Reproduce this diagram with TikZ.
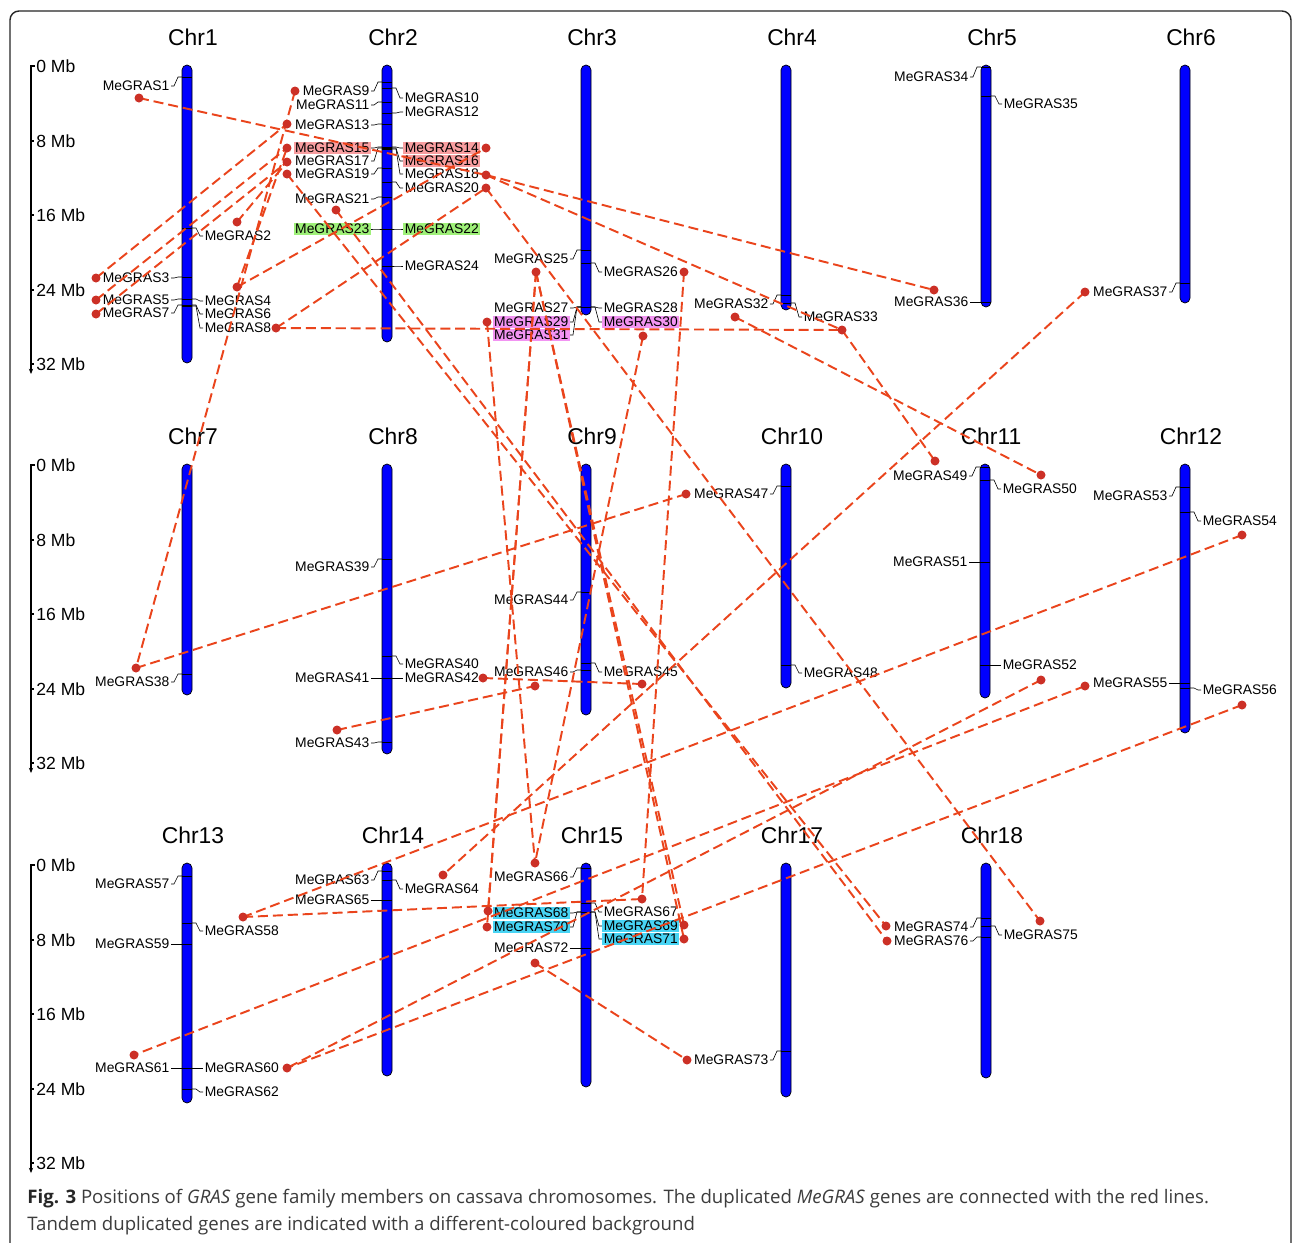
\documentclass[tikz,border=0pt]{standalone}
\usepackage{fontspec}
\setmainfont{Liberation Sans}
\newfontfamily\capfont{Open Sans}
\usetikzlibrary{arrows.meta}

\definecolor{chrblue}{RGB}{0,0,255}
\definecolor{dupred}{RGB}{234,68,28}
\definecolor{dotred}{RGB}{204,48,38}
\definecolor{hlpink}{RGB}{248,158,160}
\definecolor{hlgreen}{RGB}{158,240,120}
\definecolor{hlviolet}{RGB}{242,148,242}
\definecolor{hlcyan}{RGB}{72,212,244}
\definecolor{capgray}{RGB}{60,60,60}

\tikzset{
  frame/.style={draw=black!85,line width=0.8pt,rounded corners=0.18cm},
  chrbody/.style={draw=black,line width=0.4pt,fill=chrblue,rounded corners=0.1cm},
  chrtitle/.style={font=\fontsize{13}{15}\selectfont,inner sep=0pt},
  gtick/.style={draw=black,line width=0.5pt},
  glead/.style={draw=black,line width=0.35pt},
  glabel/.style={font=\fontsize{7.9}{9}\selectfont,inner xsep=0.8pt,inner ysep=0.6pt},
  pinkbg/.style={fill=hlpink},
  greenbg/.style={fill=hlgreen},
  violetbg/.style={fill=hlviolet},
  cyanbg/.style={fill=hlcyan},
  sbar/.style={draw=black,line width=0.8pt},
  sclabel/.style={font=\fontsize{10}{12}\selectfont,anchor=west,inner sep=0pt},
  gdot/.style={circle,fill=dotred,inner sep=0pt,minimum size=0.18cm},
  dup/.style={draw=dupred,line width=1.1pt,dash pattern=on 5.7pt off 2.8pt},
  caption/.style={font=\capfont\fontsize{10.6}{12}\selectfont,text=capgray,anchor=west,inner sep=0pt}
}

% chromosome: title, x, top, bottom
\newcommand{\chrom}[4]{%
  \node[chrtitle] (t#1) at ({#2+6},{#3-28}) {#1};
  \draw[chrbody] ({#2-5},#3) rectangle ({#2+5},#4);
}
% gene label on the left / right: [background] number, x, tick y, label y
\newcommand{\geneL}[5][]{%
  \draw[gtick] ({#3-5},#4) -- ({#3+5},#4);
  \draw[glead] ({#3-5},#4) -- ({#3-9},#4) -- ({#3-13},#5) -- ({#3-16},#5);
  \node[glabel,anchor=east,#1] (g#2) at ({#3-16},#5) {MeGRAS#2};
}
\newcommand{\geneR}[5][]{%
  \draw[gtick] ({#3-5},#4) -- ({#3+5},#4);
  \draw[glead] ({#3+5},#4) -- ({#3+9},#4) -- ({#3+13},#5) -- ({#3+16},#5);
  \node[glabel,anchor=west,#1] (g#2) at ({#3+16},#5) {MeGRAS#2};
}

\begin{document}
\begin{tikzpicture}[x=0.02cm,y=-0.02cm]
\useasboundingbox (0,0) rectangle (1292,1242);
\fill[white] (0,0) rectangle (1292,1242);
\draw[frame] (10,11) rectangle (1291,1280);

% scale bars
\foreach \r in {0,399,799}{
  \draw[sbar,-{Stealth[length=3pt,width=2.4pt]}] (35,{66+\r}) -- (31,{66+\r}) -- (31,{374+\r});
  \foreach \m/\yy in {0/66,8/141,16/215,24/290,32/364}{
    \draw[sbar] (31,{\yy+\r}) -- (34,{\yy+\r});
    \node[sclabel] (sc\r-\m) at (36,{\yy+\r}) {\m\ Mb};
  }
}

% chromosomes
\chrom{Chr1}{187}{65}{363}
\chrom{Chr2}{387}{65}{342}
\chrom{Chr3}{586}{65}{315}
\chrom{Chr4}{786}{65}{310}
\chrom{Chr5}{986}{65}{307}
\chrom{Chr6}{1185}{65}{303}
\chrom{Chr7}{187}{464}{695}
\chrom{Chr8}{387}{464}{754}
\chrom{Chr9}{586}{464}{715}
\chrom{Chr10}{786}{464}{688}
\chrom{Chr11}{985}{464}{698}
\chrom{Chr12}{1185}{464}{733}
\chrom{Chr13}{187}{863}{1103}
\chrom{Chr14}{387}{863}{1076}
\chrom{Chr15}{586}{863}{1087}
\chrom{Chr17}{786}{863}{1097}
\chrom{Chr18}{986}{863}{1078}

% genes, row 1
\geneL{1}{187}{77}{86}
\geneR{2}{187}{228}{236}
\geneL{3}{187}{277}{278}
\geneR{4}{187}{299}{301}
\geneL{5}{187}{299}{300}
\geneR{6}{187}{305}{314}
\geneL{7}{187}{305}{313}
\geneR{8}{187}{306}{328}
\geneL{9}{387}{82}{91}
\geneR{10}{387}{88}{98}
\geneL{11}{387}{102}{105}
\geneR{12}{387}{113}{112}
\geneL{13}{387}{124}{125}
\geneR[pinkbg]{14}{387}{147}{148}
\geneL[pinkbg]{15}{387}{147}{148}
\geneR[pinkbg]{16}{387}{148}{161}
\geneL{17}{387}{148}{161}
\geneR{18}{387}{149}{174}
\geneL{19}{387}{168}{174}
\geneR{20}{387}{182}{188}
\geneL{21}{387}{197}{199}
\geneR[greenbg]{22}{387}{229}{229}
\geneL[greenbg]{23}{387}{229}{229}
\geneR{24}{387}{266}{266}
\geneL{25}{586}{250}{259}
\geneR{26}{586}{263}{272}
\geneL{27}{586}{307}{308}
\geneR{28}{586}{307}{308}
\geneL[violetbg]{29}{586}{307}{322}
\geneR[violetbg]{30}{586}{307}{322}
\geneL[violetbg]{31}{586}{307}{335}
\geneL{32}{786}{295}{304}
\geneR{33}{786}{303}{317}
\geneL{34}{986}{67}{77}
\geneR{35}{986}{96}{104}
\geneL{36}{986}{302}{302}
\geneL{37}{1185}{283}{292}

% genes, row 2
\geneL{38}{187}{674}{682}
\geneL{39}{387}{559}{567}
\geneR{40}{387}{656}{664}
\geneL{41}{387}{678}{678}
\geneR{42}{387}{678}{678}
\geneL{43}{387}{742}{743}
\geneL{44}{586}{592}{600}
\geneR{45}{586}{663}{672}
\geneL{46}{586}{670}{672}
\geneL{47}{786}{486}{494}
\geneR{48}{786}{665}{673}
\geneL{49}{985}{467}{476}
\geneR{50}{985}{480}{489}
\geneL{51}{985}{562}{562}
\geneR{52}{985}{665}{665}
\geneL{53}{1185}{487}{496}
\geneR{54}{1185}{512}{521}
\geneL{55}{1185}{683}{683}
\geneR{56}{1185}{688}{690}

% genes, row 3
\geneL{57}{187}{876}{884}
\geneR{58}{187}{923}{931}
\geneL{59}{187}{944}{944}
\geneR{60}{187}{1068}{1068}
\geneL{61}{187}{1068}{1068}
\geneR{62}{187}{1089}{1092}
\geneL{63}{387}{871}{880}
\geneR{64}{387}{880}{889}
\geneL{65}{387}{900}{900}
\geneL{66}{586}{868}{877}
\geneR{67}{586}{903}{912}
\geneL[cyanbg]{68}{586}{912}{913}
\geneR[cyanbg]{69}{586}{912}{926}
\geneL[cyanbg]{70}{586}{912}{927}
\geneR[cyanbg]{71}{586}{912}{939}
\geneL{72}{586}{948}{948}
\geneL{73}{786}{1051}{1060}
\geneL{74}{986}{918}{927}
\geneR{75}{986}{926}{935}
\geneL{76}{986}{937}{941}

% duplicated gene ends
\foreach \n/\x/\y in {1/139/98, 2/237/222, 3/96/278, 4/237/287, 5/96/300, 7/96/314,
  8/276/328, 9/295/91, 13/287/124, 15/287/148, 17/287/162, 19/287/174, 21/336/210,
  14/486/148, 18/486/175, 20/486/188, 25/536/272, 26/684/272, 29/487/322, 30/643/336,
  32/735/317, 33/842/330, 36/934/290, 37/1085/292, 38/136/668, 42/483/678, 43/337/730,
  45/642/684, 46/535/686, 47/686/494, 49/935/461, 50/1041/475, 52/1041/680,
  54/1242/535, 55/1085/686, 56/1242/705, 58/243/917, 60/287/1068, 61/134/1055,
  64/443/875, 66/535/863, 67/642/899, 68/488/911, 69/684/925, 70/487/927, 71/684/939,
  72/535/963, 73/687/1060, 74/886/926, 75/1040/921, 76/887/941}
  \coordinate (d\n) at (\x,\y);

% duplication links
\foreach \a/\b in {1/18, 3/13, 5/15, 7/17, 2/17, 4/14, 4/15, 8/20, 8/33, 9/38,
  18/36, 18/33, 20/75, 19/74, 21/76, 25/68, 25/70, 25/69, 25/71, 26/67, 29/66,
  30/66, 32/50, 33/49, 37/64, 38/47, 42/45, 43/46, 52/60, 56/60, 55/61, 54/58,
  58/67, 72/73}
  \draw[dup] (d\a) -- (d\b);

\foreach \n in {1,2,3,4,5,7,8,9,13,14,15,17,18,19,20,21,25,26,29,30,32,33,36,37,38,
  42,43,45,46,47,49,50,52,54,55,56,58,60,61,64,66,67,68,69,70,71,72,73,74,75,76}
  \node[gdot] (p\n) at (d\n) {};

% caption
\node[caption] (cap1) at (27,1199) {\textbf{\color{black!85}Fig. 3} Positions of \textit{GRAS} gene family members on cassava chromosomes. The duplicated \textit{MeGRAS} genes are connected with the red lines.};
\node[caption] (cap2) at (27,1226) {Tandem duplicated genes are indicated with a different-coloured background};
\end{tikzpicture}
\end{document}
